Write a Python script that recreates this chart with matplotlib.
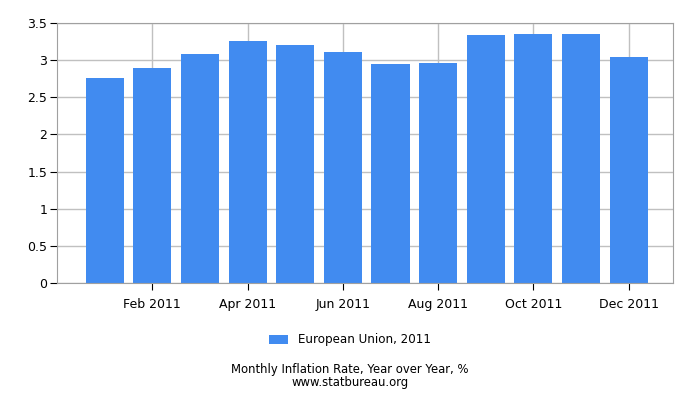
import matplotlib
matplotlib.use("Agg")
import matplotlib.pyplot as plt
import numpy as np

# Données
mois = ["Jan 2011", "Feb 2011", "Mar 2011", "Apr 2011", "May 2011", "Jun 2011",
        "Jul 2011", "Aug 2011", "Sep 2011", "Oct 2011", "Nov 2011", "Dec 2011"]
inflation = [2.76, 2.89, 3.08, 3.26, 3.20, 3.11, 2.95, 2.96, 3.34, 3.35, 3.35, 3.04]
y_ticks = [0, 0.5, 1, 1.5, 2, 2.5, 3, 3.5]
y_labels = ["0", "0.5", "1", "1.5", "2", "2.5", "3", "3.5"]

fig = plt.figure(figsize=(7, 4), dpi=100)
ax = fig.add_axes([57 / 700, 1 - 283 / 400, 616 / 700, 260 / 400])

x = np.arange(len(mois))
ax.bar(x, inflation, width=0.8, color="#418bf0", label="European Union, 2011", zorder=2)

# Axes
ax.set_xlim(-1.0, 11.93)
ax.set_ylim(0, 3.5)
ax.set_yticks(y_ticks)
ax.set_yticklabels(y_labels, fontsize=9)
ax.set_xticks(x[1::2])
ax.set_xticklabels(mois[1::2], fontsize=9)
ax.grid(True, color="#c0c0c0", linewidth=1, zorder=0)
ax.tick_params(axis="both", direction="out", length=5, color="black", pad=2)
ax.tick_params(axis="x", pad=6)
for side in ["top", "right", "left", "bottom"]:
    ax.spines[side].set_color("#a0a0a0")

# Légende et titre en bas
fig.legend(loc="center", bbox_to_anchor=(0.5, 1 - 340 / 400), frameon=False,
           fontsize=8.6, handlelength=1.6, handleheight=0.8)
fig.text(0.5, 1 - 376 / 400, "Monthly Inflation Rate, Year over Year, %\nwww.statbureau.org",
         ha="center", va="center", fontsize=8.4, linespacing=0.95)

plt.savefig("out.png", dpi=100)
